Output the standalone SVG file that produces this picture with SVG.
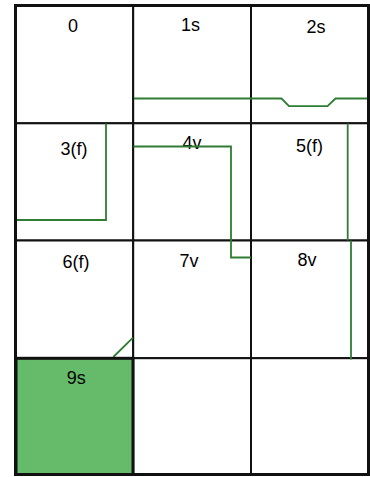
<svg xmlns="http://www.w3.org/2000/svg" width="370" height="477" viewBox="0 0 370 477">
<style>
.cell{fill:#fff;stroke:#111;stroke-width:2}
.lbl{font-family:"Liberation Sans",Arial,sans-serif;font-size:18px;fill:#000;text-anchor:middle}
.conn{fill:none;stroke:#2e7d32;stroke-width:1.8}
</style>
<rect x="0" y="0" width="370" height="477" fill="#fff"/>
<g id="cell0"><rect class="cell" x="15.5" y="5.5" width="117.7" height="117.8"/><text class="lbl" x="73" y="31.5">0</text></g>
<g id="cell1"><rect class="cell" x="133.2" y="5.5" width="117.8" height="117.8"/><text class="lbl" x="190.5" y="31">1s</text></g>
<g id="cell2"><rect class="cell" x="251" y="5.5" width="117.5" height="117.8"/><text class="lbl" x="316" y="33.3">2s</text></g>
<g id="cell3"><rect class="cell" x="15.5" y="123.3" width="117.7" height="117.2"/><text class="lbl" x="74" y="155">3(f)</text></g>
<g id="cell4"><rect class="cell" x="133.2" y="123.3" width="117.8" height="117.2"/><text class="lbl" x="192" y="149.3">4v</text></g>
<g id="cell5"><rect class="cell" x="251" y="123.3" width="117.5" height="117.2"/><text class="lbl" x="309.5" y="152.3">5(f)</text></g>
<g id="cell6"><rect class="cell" x="15.5" y="240.5" width="117.7" height="117.7"/><text class="lbl" x="76" y="268.3">6(f)</text></g>
<g id="cell7"><rect class="cell" x="133.2" y="240.5" width="117.8" height="117.7"/><text class="lbl" x="189" y="266.5">7v</text></g>
<g id="cell8"><rect class="cell" x="251" y="240.5" width="117.5" height="117.7"/><text class="lbl" x="307" y="265.7">8v</text></g>
<g id="cell10"><rect class="cell" x="133.2" y="358.2" width="117.8" height="116.3"/></g>
<g id="cell11"><rect class="cell" x="251" y="358.2" width="117.5" height="116.3"/></g>
<g id="connectors">
<path class="conn" d="M134,98.5 H281.5 L289,106.2 H327.5 L335.5,98.5 H368"/>
<path class="conn" d="M106,123.5 V220 H16"/>
<path class="conn" d="M133.5,146.5 H231 V257.5 H251"/>
<path class="conn" d="M347.7,123.5 V240.5"/>
<path class="conn" d="M351,240.5 V359.5"/>
<path class="conn" d="M113.3,357 L133,337.7"/>
</g>
<g id="cell9"><rect x="16" y="358.3" width="117" height="116.2" fill="#66bb6a" stroke="#111" stroke-width="3"/><text class="lbl" x="76.3" y="384">9s</text></g>
<rect x="15.5" y="5.5" width="353" height="469" fill="none" stroke="#111" stroke-width="3"/>
</svg>
